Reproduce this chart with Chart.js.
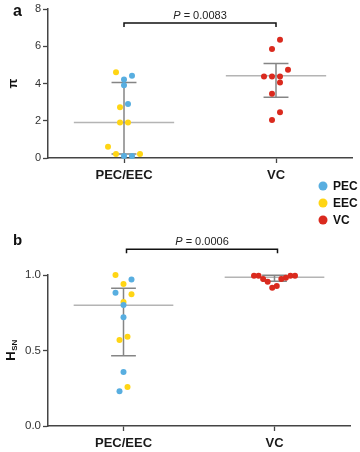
<!DOCTYPE html>
<html><head><meta charset="utf-8">
<script src="https://cdn.jsdelivr.net/npm/chart.js@4.4.1/dist/chart.umd.min.js"></script>
<style>
html,body{margin:0;padding:0;background:#fff;}
#wrap{position:relative;width:360px;height:452px;overflow:hidden;}
canvas{position:absolute;left:0;}
#ca{top:0;} #cb{top:230px;}
</style></head><body>
<div id="wrap"><canvas id="ca" width="360" height="230"></canvas><canvas id="cb" width="360" height="222"></canvas></div>
<script>
// ---- data ----
const categories = ['PEC/EEC', 'VC'];
const groupNames = ['PEC', 'EEC', 'VC'];
const groupColors = ['#58AEE0', '#FFD514', '#DA2A1E'];

const piPEC = [4.42, 4.21, 3.90, 2.90, 0.11, 0.11];
const piEEC = [4.60, 2.72, 1.90, 1.90, 0.61, 0.21, 0.21];
const piVC  = [6.35, 5.85, 4.74, 4.38, 4.38, 4.38, 4.06, 3.45, 2.45, 2.04];
const piMedian = [1.90, 4.42];
const piQ1 = [0.21, 3.26];
const piQ3 = [4.06, 5.08];
const piTicks = [0, 2, 4, 6, 8];
const piP = '0.0083';

const hPEC = [0.971, 0.883, 0.801, 0.721, 0.358, 0.230];
const hEEC = [1.000, 0.940, 0.872, 0.821, 0.591, 0.569, 0.259];
const hVC  = [0.995, 0.995, 0.995, 0.995, 0.982, 0.973, 0.973, 0.955, 0.927, 0.916];
const hMedian = [0.80, 0.985];
const hQ1 = [0.465, 0.958];
const hQ3 = [0.912, 0.998];
const hTicks = [0.0, 0.5, 1.0];
const hP = '0.0006';

const FONT = "'Liberation Sans', Arial, Helvetica, sans-serif";
Chart.defaults.font.family = FONT;
Chart.defaults.color = '#333';

function makeDatasets(pec, eec, vc) {
  const vals = [pec, eec, vc];
  const cats = [0, 0, 1];
  return vals.map((v, i) => ({
    label: groupNames[i],
    values: v,
    cat: cats[i],
    data: v.map(y => ({ x: cats[i], y })),
    backgroundColor: groupColors[i],
    borderWidth: 0,
    pointRadius: 3,
    pointHoverRadius: 3,
    clip: false
  }));
}

// Prism-style scatter layout: points grouped in rows (from top), centred in each row,
// computed in pixel space through the chart's scales
function applySwarm(chart, d, rowH, maxSpan) {
  const xs = chart.scales.x, ys = chart.scales.y;
  const ppu = xs.getPixelForValue(1) - xs.getPixelForValue(0);
  categories.forEach((c, ci) => {
    const items = [];
    let order = 0;
    chart.data.datasets.forEach((ds, di) => {
      if (ds.cat !== ci) return;
      ds.values.forEach((v, k) => items.push({ di, k, v, order: order++, py: ys.getPixelForValue(v) }));
    });
    const desc = items.slice().sort((a, b) => b.v - a.v || a.order - b.order);
    const rows = []; let cur = null;
    desc.forEach(it => {
      if (!cur || it.py - cur.start >= rowH) { cur = { start: it.py, items: [] }; rows.push(cur); }
      cur.items.push(it);
    });
    rows.forEach(r => {
      const n = r.items.length;
      const s = n > 1 ? Math.min(d, maxSpan / (n - 1)) : d;
      const asc = r.items.slice().sort((a, b) => a.v - b.v || a.order - b.order);
      const slots = [];
      if (n % 2) {
        slots.push(0);
        for (let k = 1; slots.length < n; k++) { slots.push(k * s); if (slots.length < n) slots.push(-k * s); }
      } else {
        for (let k = 0; slots.length < n; k++) { slots.push(-(k + 0.5) * s); slots.push((k + 0.5) * s); }
      }
      asc.forEach((it, j) => {
        chart.data.datasets[it.di].data[it.k] = { x: ci + slots[j] / ppu, y: it.v };
      });
    });
  });
  chart.update('none');
}

const decor = {
  id: 'decor',
  beforeDatasetsDraw(chart, args, o) {
    const { ctx } = chart; const xs = chart.scales.x, ys = chart.scales.y;
    const ppu = xs.getPixelForValue(1) - xs.getPixelForValue(0);
    o.median.forEach((m, i) => {
      const cx = xs.getPixelForValue(i);
      ctx.save();
      ctx.lineCap = 'butt';
      ctx.strokeStyle = '#b4b4b4'; ctx.lineWidth = 1.5;
      const my = ys.getPixelForValue(m);
      ctx.beginPath(); ctx.moveTo(cx - 0.33 * ppu, my); ctx.lineTo(cx + 0.33 * ppu, my); ctx.stroke();
      ctx.strokeStyle = '#858585';
      const y1 = ys.getPixelForValue(o.q1[i]), y3 = ys.getPixelForValue(o.q3[i]);
      ctx.beginPath(); ctx.moveTo(cx, y1); ctx.lineTo(cx, y3);
      ctx.moveTo(cx - 0.082 * ppu, y1); ctx.lineTo(cx + 0.082 * ppu, y1);
      ctx.moveTo(cx - 0.082 * ppu, y3); ctx.lineTo(cx + 0.082 * ppu, y3);
      ctx.stroke();
      ctx.restore();
    });
  },
  afterDraw(chart, args, o) {
    const { ctx, chartArea } = chart; const xs = chart.scales.x, ys = chart.scales.y;
    ctx.save();
    // significance bracket
    const bx0 = xs.getPixelForValue(0) + o.bracketShift, bx1 = xs.getPixelForValue(1) + o.bracketShift;
    const by = ys.getPixelForValue(o.bracketY);
    ctx.strokeStyle = '#111'; ctx.lineWidth = 1.5;
    ctx.beginPath(); ctx.moveTo(bx0, by + 4); ctx.lineTo(bx0, by); ctx.lineTo(bx1, by); ctx.lineTo(bx1, by + 4); ctx.stroke();
    ctx.fillStyle = '#222'; ctx.textBaseline = 'middle';
    const fI = 'italic 11px ' + FONT, fN = '11px ' + FONT;
    const rest = ' = ' + o.p;
    ctx.font = fI; const wP = ctx.measureText('P').width;
    ctx.font = fN; const wR = ctx.measureText(rest).width;
    let tx = (bx0 + bx1) / 2 - (wP + wR) / 2;
    ctx.textAlign = 'left';
    ctx.font = fI; ctx.fillText('P', tx, by - 7);
    ctx.font = fN; ctx.fillText(rest, tx + wP, by - 7);
    // panel letter
    ctx.textBaseline = 'alphabetic';
    ctx.font = 'bold ' + o.letterSize + 'px ' + FONT; ctx.fillStyle = '#111';
    ctx.fillText(o.letter, 13, o.letterY);
    // y title
    const cy = (chartArea.top + chartArea.bottom) / 2;
    ctx.save();
    ctx.translate(o.titleX, cy); ctx.rotate(-Math.PI / 2);
    ctx.textBaseline = 'middle';
    ctx.font = 'bold 13px ' + FONT;
    const wMain = ctx.measureText(o.title).width;
    let wSub = 0;
    if (o.sub) { ctx.font = 'bold 8px ' + FONT; wSub = ctx.measureText(o.sub).width; }
    const sx = -(wMain + wSub) / 2;
    ctx.font = 'bold 13px ' + FONT; ctx.fillText(o.title, sx, 0);
    if (o.sub) { ctx.font = 'bold 8px ' + FONT; ctx.fillText(o.sub, sx + wMain + 0.5, 3.5); }
    ctx.restore();
    // legend
    if (o.legend) {
      groupNames.forEach((g, i) => {
        const ly = o.legend.y + i * o.legend.gap;
        ctx.fillStyle = groupColors[i];
        ctx.beginPath(); ctx.arc(o.legend.x, ly, 4.5, 0, Math.PI * 2); ctx.fill();
        ctx.fillStyle = '#111'; ctx.font = 'bold 12px ' + FONT; ctx.textBaseline = 'middle'; ctx.textAlign = 'left';
        ctx.fillText(g, o.legend.x + 10, ly + 0.5);
      });
    }
    ctx.restore();
  }
};

function makeChart(id, sets, yTicks, yMax, fmt, pad, dec, tickSize) {
  return new Chart(document.getElementById(id), {
    type: 'scatter',
    data: { datasets: sets },
    options: {
      responsive: false, animation: false, events: [],
      layout: { padding: pad },
      plugins: { legend: { display: false }, tooltip: { enabled: false }, decor: dec },
      scales: {
        x: {
          type: 'linear', min: -0.5, max: 1.5,
          afterBuildTicks: s => { s.ticks = categories.map((c, i) => ({ value: i })); },
          afterFit: s => { s.height = 24; },
          ticks: { callback: v => categories[v], font: { size: 13, weight: 'bold' }, color: '#1a1a1a', padding: 5, maxRotation: 0, autoSkip: false },
          grid: { drawOnChartArea: false, drawTicks: true, tickLength: 5, tickColor: '#444', tickWidth: 1.3 },
          border: { display: true, color: '#444', width: 1.5 }
        },
        y: {
          type: 'linear', min: 0, max: yMax,
          afterBuildTicks: s => { s.ticks = yTicks.map(v => ({ value: v })); },
          afterFit: s => { s.width = 48; },
          ticks: { callback: fmt, font: { size: tickSize }, color: '#333', padding: 2 },
          grid: { drawOnChartArea: false, drawTicks: true, tickLength: 5, tickColor: '#444', tickWidth: 1.3 },
          border: { display: true, color: '#444', width: 1.5 }
        }
      }
    },
    plugins: [decor]
  });
}

const chartA = makeChart('ca', makeDatasets(piPEC, piEEC, piVC), piTicks, 8, v => String(v),
  { top: 9, left: 0, right: 8, bottom: 48 },
  { median: piMedian, q1: piQ1, q3: piQ3, bracketY: 7.25, bracketShift: 0, p: piP, letter: 'a', letterSize: 16, letterY: 16,
    title: 'π', sub: null, titleX: 13.5, legend: { x: 323, y: 186, gap: 17 } }, 11);

const chartB = makeChart('cb', makeDatasets(hPEC, hEEC, hVC), hTicks, 1.0, v => Number(v).toFixed(1),
  { top: 45, left: 0, right: 10, bottom: 2 },
  { median: hMedian, q1: hQ1, q3: hQ3, bracketY: 1.17, bracketShift: 3, p: hP, letter: 'b', letterSize: 15, letterY: 15,
    title: 'H', sub: 'SN', titleX: 11, legend: null }, 11.5);

applySwarm(chartA, 8, 12, 41);
applySwarm(chartB, 8, 12, 41);
</script>
</body></html>
